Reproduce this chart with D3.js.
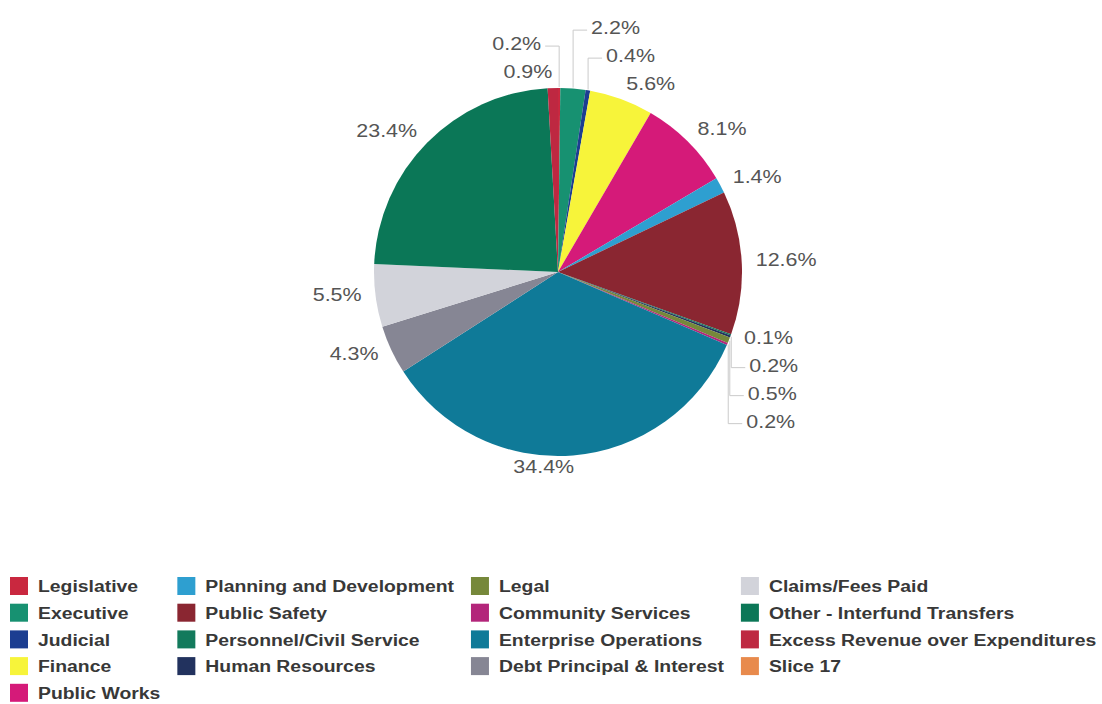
<!DOCTYPE html>
<html lang="en">
<head>
<meta charset="UTF-8">
<title>Expenditures by Department</title>
<style>
  body { margin: 0; background: #fff; }
  text { font-family: "Liberation Sans", Arial, sans-serif; }
  text.pct { font-size: 19px; fill: #555; }
  text.leg { font-size: 17px; font-weight: bold; fill: #383838; }
  path.leader { fill: none; stroke: #cacaca; stroke-width: 1; }
</style>
</head>
<body>
<div id="chart"></div>
<script src="https://cdnjs.cloudflare.com/ajax/libs/d3/7.8.5/d3.min.js"></script>
<script>
var categories = ["Legislative", "Executive", "Judicial", "Finance", "Public Works",
  "Planning and Development", "Public Safety", "Personnel/Civil Service", "Human Resources",
  "Legal", "Community Services", "Enterprise Operations", "Debt Principal & Interest",
  "Claims/Fees Paid", "Other - Interfund Transfers", "Excess Revenue over Expenditures", "Slice 17"];
var shares = [0.2, 2.2, 0.4, 5.6, 8.1, 1.4, 12.6, 0.1, 0.2, 0.5, 0.2, 34.4, 4.3, 5.5, 23.4, 0.9, 0];
var colors = ["#c9283f", "#179171", "#1c3e91", "#f7f43a", "#d51a79", "#2e9fd0", "#8a2631",
  "#137a5c", "#22325e", "#76883a", "#b3257a", "#0f7a98", "#868694", "#d2d3da", "#0b7757",
  "#be2841", "#e88a4c"];

(function() {
  var W = 1102, H = 704;
  var cx = 558, cy = 272, r = 184;
  var labelR = 198, gap = 28, sx = 1.13, legSx = 1.14;

  var svg = d3.select("#chart").append("svg")
    .attr("width", W)
    .attr("height", H);

  var data = categories.map(function(c, i) { return { name: c, value: shares[i], color: colors[i] }; });

  var pie = d3.pie().sort(null).value(function(d) { return d.value; });
  var arc = d3.arc().innerRadius(0).outerRadius(r);
  var arcs = pie(data);

  var g = svg.append("g").attr("transform", "translate(" + cx + "," + cy + ")");

  g.selectAll("path.slice").data(arcs).enter().append("path")
    .attr("class", "slice")
    .attr("d", arc)
    .attr("fill", function(d) { return d.data.color; });

  // label placement: outside the pie, pushed apart vertically on each side
  var labels = arcs.filter(function(d) { return d.data.value > 0; }).map(function(d) {
    var a = (d.startAngle + d.endAngle) / 2;
    var s = Math.sin(a), c = Math.cos(a);
    var right = s > (c > 0 ? 0.02 : 0.1);
    return {
      d: d, a: a, right: right,
      ex: (r + 1) * s, ey: -(r + 1) * c,
      x: labelR * s, y0: -labelR * c, y: -labelR * c
    };
  });

  [true, false].forEach(function(side) {
    var upper = labels.filter(function(l) { return l.right === side && l.y0 < 0; })
      .sort(function(p, q) { return q.y0 - p.y0; });
    var lower = labels.filter(function(l) { return l.right === side && l.y0 >= 0; })
      .sort(function(p, q) { return p.y0 - q.y0; });
    for (var i = 1; i < upper.length; i++) {
      if (upper[i].y > upper[i - 1].y - gap) upper[i].y = upper[i - 1].y - gap;
    }
    for (var j = 1; j < lower.length; j++) {
      if (lower[j].y < lower[j - 1].y + gap) lower[j].y = lower[j - 1].y + gap;
    }
  });

  labels.forEach(function(l) {
    var dir = l.right ? 1 : -1;
    if (Math.abs(l.y - l.y0) > 4) {
      l.x = l.ex + dir * 18;
      g.append("path")
        .attr("class", "leader")
        .attr("d", d3.line()([[l.ex, l.ey], [l.ex, l.y], [l.x - dir * 4, l.y]]));
    }
    g.append("text")
      .attr("class", "pct")
      .attr("transform", "translate(" + l.x + "," + (l.y - 3) + ") scale(" + sx + ",1)")
      .attr("dy", "0.36em")
      .attr("text-anchor", l.right ? "start" : "end")
      .text(l.d.data.value.toFixed(1) + "%");
  });

  // legend: column-major, first column takes the extra item
  var nCols = 4, sw = 18, rowH = 26.7, top = 586, left = 10;
  var base = Math.floor(data.length / nCols), extra = data.length % nCols;
  var cols = [], k = 0;
  for (var c = 0; c < nCols; c++) {
    var n = base + (c < extra ? 1 : 0);
    cols.push(data.slice(k, k + n));
    k += n;
  }

  var legend = svg.append("g");
  var colX = left;
  cols.forEach(function(items) {
    var maxW = 0;
    items.forEach(function(d, i) {
      var y = top + i * rowH;
      legend.append("rect")
        .attr("x", colX)
        .attr("y", y - sw / 2)
        .attr("width", sw)
        .attr("height", sw)
        .attr("fill", d.color);
      var t = legend.append("text")
        .attr("class", "leg")
        .attr("transform", "translate(" + (colX + 28) + "," + y + ") scale(" + legSx + ",1)")
        .attr("dy", "0.36em")
        .text(d.name);
      maxW = Math.max(maxW, t.node().getComputedTextLength() * legSx);
    });
    colX = colX + 28 + maxW + 17;
  });
})();
</script>
</body>
</html>
